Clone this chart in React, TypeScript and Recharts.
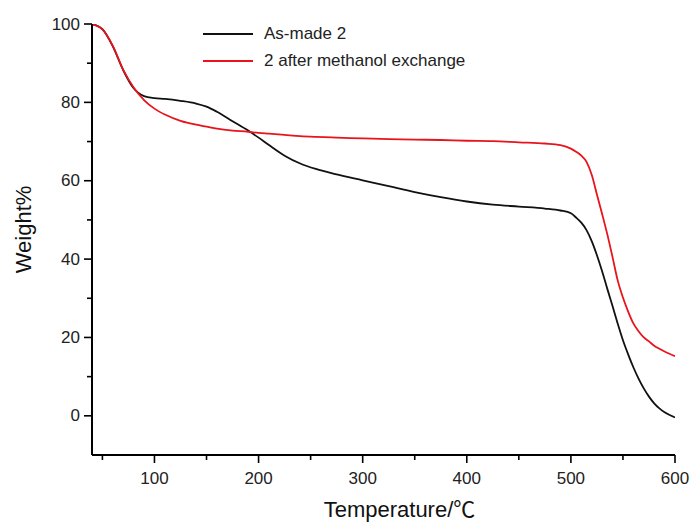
import React from 'react';
import { LineChart, Line, XAxis, YAxis } from 'recharts';

const temperatures = [40, 50, 60, 70, 80, 90, 100, 110, 125, 140, 150, 160, 175, 190, 200, 210, 225, 240, 255, 275, 300, 325, 350, 375, 400, 425, 450, 475, 490, 500, 505, 510, 515, 520, 525, 530, 535, 540, 545, 550, 555, 560, 565, 570, 575, 580, 585, 590, 600];

const asMade = [100, 98.7, 94.3, 88.2, 83.6, 81.6, 81.1, 80.9, 80.4, 79.7, 78.9, 77.6, 75.2, 72.8, 71.0, 69.1, 66.4, 64.4, 63.0, 61.6, 60.1, 58.6, 57.1, 55.8, 54.7, 53.9, 53.4, 52.9, 52.4, 51.7, 50.6, 49.3, 47.4, 44.6, 41.0, 36.9, 32.4, 28.0, 23.5, 19.3, 15.7, 12.4, 9.5, 7.0, 4.9, 3.2, 1.9, 0.9, -0.4];

const afterMethanol = [100, 98.6, 94.4, 88.3, 83.8, 80.6, 78.4, 76.9, 75.3, 74.3, 73.8, 73.3, 72.8, 72.5, 72.2, 72, 71.7, 71.4, 71.2, 71, 70.8, 70.6, 70.5, 70.4, 70.2, 70.1, 69.8, 69.5, 69.1, 68.2, 67.4, 66.4, 64.8, 61.5, 56.5, 51.5, 46.3, 40.5, 34.5, 30.2, 26.6, 23.6, 21.6, 20, 19, 17.9, 17.1, 16.4, 15.2];

const xMajorTicks = [100, 200, 300, 400, 500, 600];
const xMinorTicks = [50, 150, 250, 350, 450, 550];
const yMajorTicks = [0, 20, 40, 60, 80, 100];
const yMinorTicks = [10, 30, 50, 70, 90];

const seriesNames = ['As-made 2', '2 after methanol exchange'];
const seriesColors = ['#111111', '#e8141c'];

const data = temperatures.map((t, i) => ({ t, asMade: asMade[i], methanol: afterMethanol[i] }));

const FONT = 'Liberation Sans, Arial, Helvetica, sans-serif';

const XTick = (props: any) => {
  const { x, y, payload } = props;
  const major = xMajorTicks.includes(payload.value);
  return (
    <g>
      <line x1={x} x2={x} y1={y} y2={y + (major ? 8 : 5)} stroke="#000" strokeWidth={1.6} />
      {major && (
        <text x={x} y={y + 23} textAnchor="middle" dominantBaseline="central" fontSize={17} fill="#222" fontFamily={FONT}>
          {payload.value}
        </text>
      )}
    </g>
  );
};

const YTick = (props: any) => {
  const { x, y, payload } = props;
  const major = yMajorTicks.includes(payload.value);
  return (
    <g>
      <line x1={x - (major ? 8 : 5)} x2={x} y1={y} y2={y} stroke="#000" strokeWidth={1.6} />
      {major && (
        <text x={x - 12} y={y} textAnchor="end" dominantBaseline="central" fontSize={17} fill="#222" fontFamily={FONT}>
          {payload.value}
        </text>
      )}
    </g>
  );
};

const XLabel = (props: any) => {
  const vb = props.viewBox || { x: 92, y: 455, width: 583, height: 69 };
  const cx = vb.x + vb.width / 2 + 16;
  return (
    <text x={cx} y={vb.y + 62} textAnchor="middle" fontSize={22} fill="#111" fontFamily={FONT}>
      <tspan>Temperature/</tspan>
      <tspan fontFamily="Noto Sans CJK SC, serif">℃</tspan>
    </text>
  );
};

const YLabel = (props: any) => {
  const vb = props.viewBox || { x: 0, y: 24, width: 92, height: 431 };
  const cy = vb.y + vb.height / 2 - 10;
  const cx = 31;
  return (
    <text x={cx} y={cy} transform={`rotate(-90, ${cx}, ${cy})`} textAnchor="middle" fontSize={22} fill="#111" fontFamily={FONT}>
      Weight%
    </text>
  );
};

export default function App() {
  return (
    <div style={{ position: 'absolute', left: 0, top: 0, width: 692, height: 524, background: '#fff' }}>
      <LineChart width={692} height={524} data={data} margin={{ top: 24, right: 17, bottom: 0, left: 0 }}>
        <XAxis
          dataKey="t"
          type="number"
          domain={[40, 600]}
          allowDataOverflow
          ticks={[...xMinorTicks, ...xMajorTicks].sort((a, b) => a - b)}
          interval={0}
          tickLine={false}
          tickSize={0}
          tickMargin={0}
          tick={<XTick />}
          axisLine={{ stroke: '#000', strokeWidth: 2 }}
          height={69}
          label={<XLabel />}
        />
        <YAxis
          type="number"
          domain={[-10, 100]}
          allowDataOverflow
          ticks={[...yMinorTicks, ...yMajorTicks].sort((a, b) => a - b)}
          interval={0}
          tickLine={false}
          tickSize={0}
          tickMargin={0}
          tick={<YTick />}
          axisLine={{ stroke: '#000', strokeWidth: 2 }}
          width={92}
          label={<YLabel />}
        />
        <Line type="monotone" dataKey="asMade" stroke={seriesColors[0]} strokeWidth={1.8} dot={false} isAnimationActive={false} />
        <Line type="monotone" dataKey="methanol" stroke={seriesColors[1]} strokeWidth={1.8} dot={false} isAnimationActive={false} />
      </LineChart>
      {seriesNames.map((name, i) => (
        <div key={name} style={{ position: 'absolute', left: 203, top: 34 + i * 27 - 10, height: 20, display: 'flex', alignItems: 'center' }}>
          <div style={{ width: 50, height: 2, background: seriesColors[i] }} />
          <span style={{ marginLeft: 11, fontSize: 17, fontFamily: FONT, color: '#222', lineHeight: '20px', whiteSpace: 'nowrap' }}>{name}</span>
        </div>
      ))}
    </div>
  );
}
